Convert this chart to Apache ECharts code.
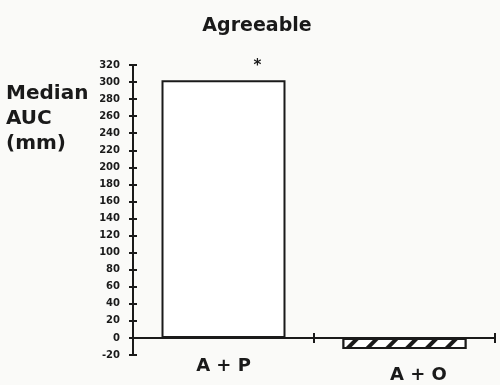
<!DOCTYPE html>
<html><head><meta charset="utf-8">
<script src="https://cdn.jsdelivr.net/npm/echarts@6/dist/echarts.min.js"></script>
<style>html,body{margin:0;padding:0;background:#fafaf8}#c{width:500px;height:385px}</style>
</head><body><div id="c"></div>
<script>
var categories = ['A + P', 'A + O'];
var values = [302, -13];
var yTicks = [-20, 320, 20];
var titleText = 'Agreeable';
var yTitle = 'Median\nAUC\n(mm)';
var FONT = '"DejaVu Sans", "Liberation Sans", Arial, sans-serif';

var chart = echarts.init(document.getElementById('c'));
var ink = '#1a1a1a';
var yCommon = {
  type: 'value', min: yTicks[0], max: yTicks[1], interval: yTicks[2],
  splitLine: {show: false},
  axisLine: {show: true, lineStyle: {color: ink, width: 2}}
};
var labelStyle = {fontFamily: FONT, fontWeight: 'bold', fontSize: 18, color: ink};
chart.setOption({
  backgroundColor: '#fafaf8',
  animation: false,
  title: {text: titleText, left: 252, top: 12, textAlign: 'center',
    textStyle: {fontFamily: FONT, fontWeight: 'bold', fontSize: 19, color: ink}},
  graphic: [{type: 'text', left: 6, top: 81, style: {text: yTitle, font: 'bold 20px ' + FONT, fill: ink, lineHeight: 25}}],
  grid: {left: 133, right: 5, top: 65, bottom: 30, containLabel: false, outerBoundsMode: 'none'},
  xAxis: [
    {type: 'category', data: categories, boundaryGap: true,
     axisLine: {onZero: true, lineStyle: {color: ink, width: 2}},
     axisTick: {show: true, inside: false, length: 5, lineStyle: {width: 2, color: ink}},
     axisLabel: Object.assign({margin: 2, formatter: function (v, i) { return i === 0 ? v : ''; }}, labelStyle)},
    {type: 'category', data: categories, boundaryGap: true, position: 'bottom',
     axisLine: {onZero: true, onZeroAxisIndex: 0, lineStyle: {color: ink, width: 2}},
     axisTick: {show: true, inside: true, length: 5, lineStyle: {width: 2, color: ink}},
     axisLabel: Object.assign({margin: 11, padding: [0, 0, 0, 28], formatter: function (v, i) { return i === 1 ? v : ''; }}, labelStyle)}
  ],
  yAxis: [
    Object.assign({}, yCommon, {
      axisTick: {show: true, inside: false, length: 4, lineStyle: {width: 2, color: ink}},
      axisLabel: {margin: 13, fontFamily: FONT, fontWeight: 'bold', fontSize: 10, color: ink}}),
    Object.assign({}, yCommon, {position: 'left',
      axisTick: {show: true, inside: true, length: 4, lineStyle: {width: 2, color: ink}},
      axisLabel: {show: false}})
  ],
  series: [{
    type: 'bar', xAxisIndex: 0, yAxisIndex: 0, barWidth: '68.5%',
    data: values.map(function (v, i) {
      return i === 0 ? {value: v,
        itemStyle: {color: '#ffffff', borderColor: ink, borderWidth: 2},
        label: {show: true, position: 'top', formatter: '*', offset: [34, -2],
          fontFamily: FONT, fontWeight: 'bold', fontSize: 15, color: ink}}
      : {value: v,
        itemStyle: {color: '#ffffff', borderColor: ink, borderWidth: 2,
          decal: {symbol: 'rect', symbolSize: 1, color: ink, backgroundColor: '#ffffff',
            dashArrayX: [[1, 0]], dashArrayY: [4, 10], rotation: -Math.PI / 4}}};
    })
  }]
});
</script></body></html>
